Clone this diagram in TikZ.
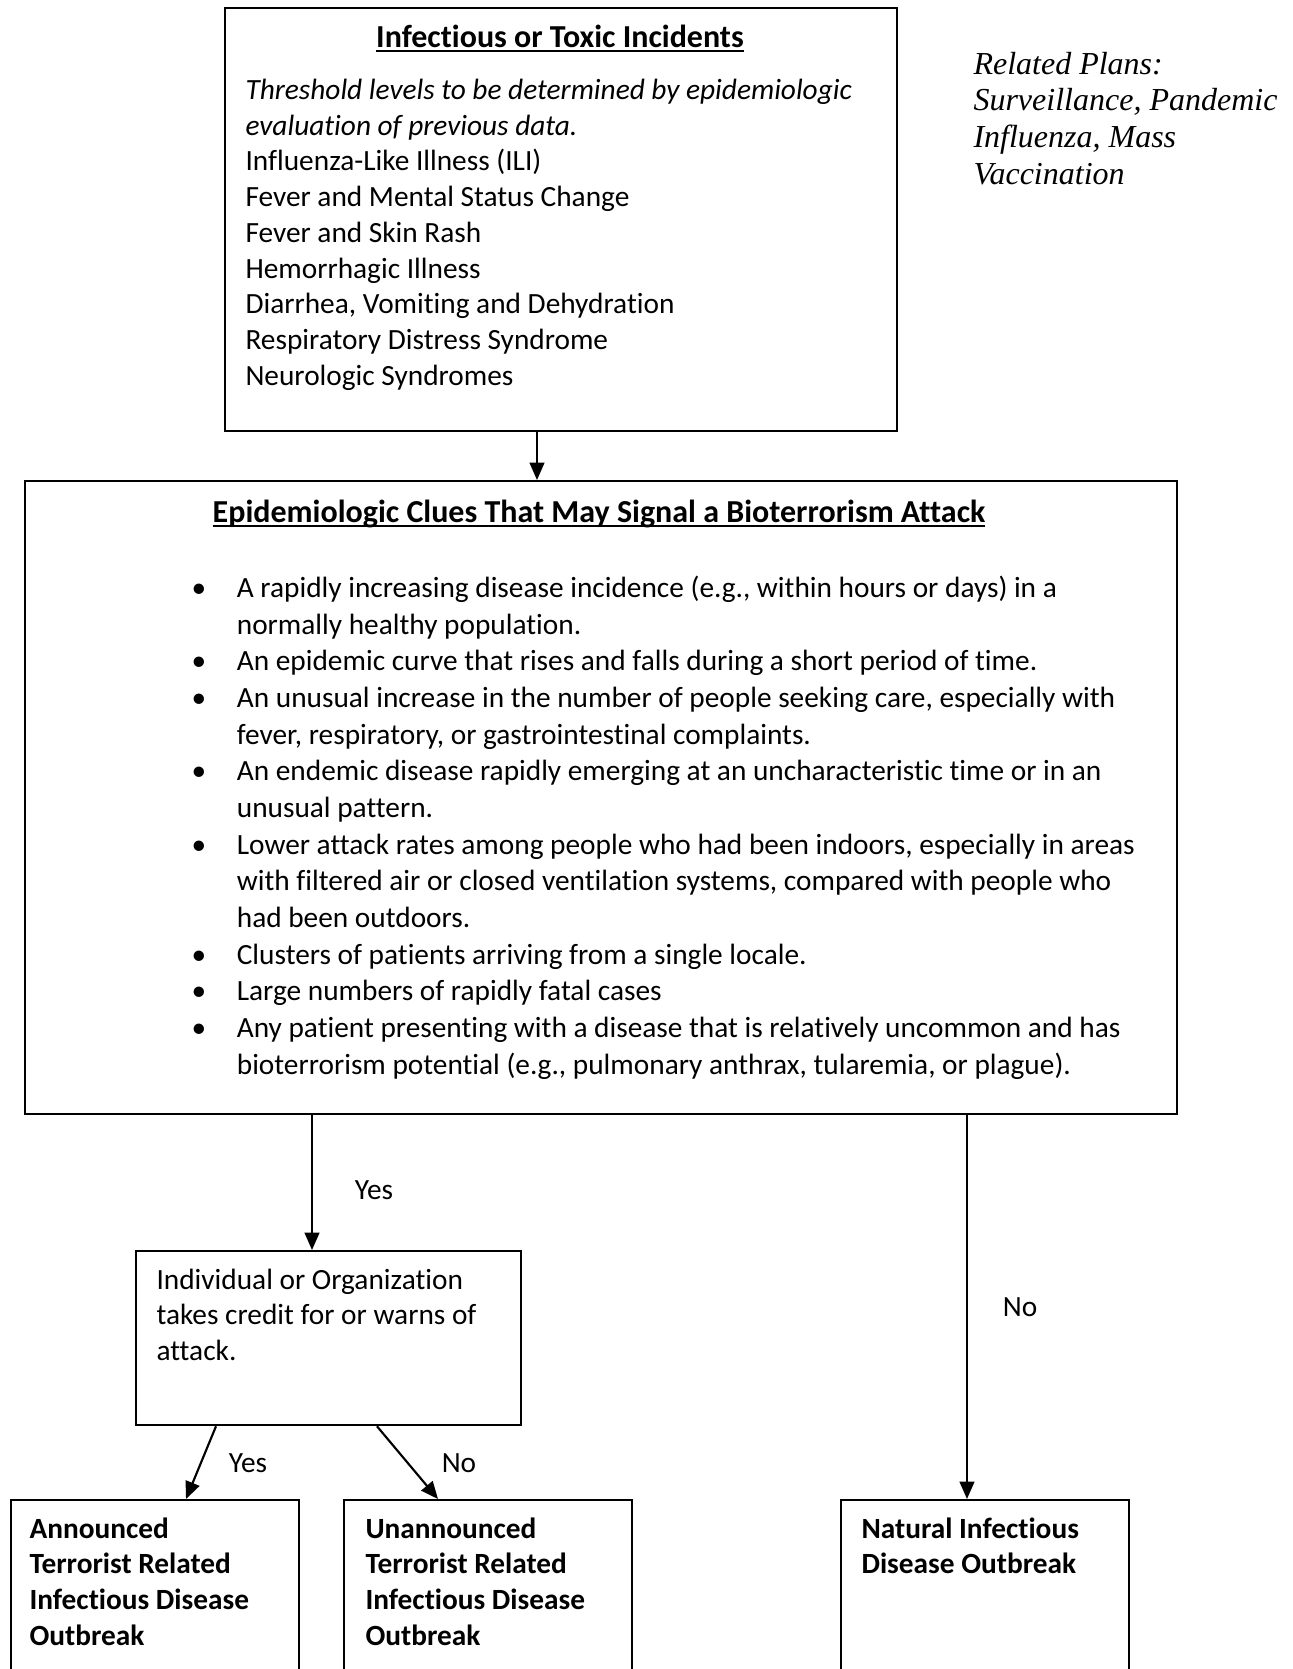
\documentclass[tikz,border=0pt]{standalone}
\usepackage{fontspec}
\setmainfont{Carlito}[RawFeature={-liga;-clig;-dlig;-rlig}]
\newfontfamily\planfont{Liberation Serif}
\usetikzlibrary{arrows.meta}
\newcommand{\boxlines}[1]{\begin{tabular}[t]{@{}l@{}}#1\end{tabular}}
\newcommand{\cluelines}[1]{\begin{tabular}[t]{@{}p{17pt}@{}l@{}}#1\end{tabular}}
\newcommand{\thickul}[1]{\setbox0=\hbox{#1}\leavevmode\rlap{\rule[-1.8pt]{\wd0}{0.75pt}}\box0}
\begin{document}
\begin{tikzpicture}[x=0.375pt,y=-0.375pt]
        \tikzset{
            box/.style={draw=black,line width=0.8pt,inner sep=0pt,anchor=north west},
            txt/.style={inner sep=0pt,anchor=base west,font=\fontsize{11}{13.4}\selectfont},
            heading/.style={inner sep=0pt,anchor=base,font=\fontsize{12}{14}\selectfont\bfseries},
            arr/.style={-{Triangle[width=5.5pt,length=6.5pt]},line width=0.8pt}
        }
        \clip (0,0) rectangle (1293,1669);

        \node[box,minimum width=252.2pt,minimum height=158.9pt] (inc) at (223.5,6.5) {};
        \node[box,minimum width=432.2pt,minimum height=237.4pt] (clues) at (23.5,480) {};
        \node[box,minimum width=144.4pt,minimum height=65.3pt] (credit) at (135,1250) {};
        \node[box,minimum width=108pt,minimum height=80pt] (ann) at (9.5,1499) {};
        \node[box,minimum width=108pt,minimum height=80pt] (unann) at (343,1499) {};
        \node[box,minimum width=108pt,minimum height=80pt] (nat) at (840,1499) {};

        \node[heading] (inctitle) at (560,47) {\thickul{Infectious or Toxic Incidents}};
        \node[txt] (inclist) at (245,99.5) {\boxlines{
                \textit{Threshold levels to be determined by epidemiologic}\\
                \textit{evaluation of previous data.}\\
                Influenza-Like Illness (ILI)\\
                Fever and Mental Status Change\\
                Fever and Skin Rash\\
                Hemorrhagic Illness\\
                Diarrhea, Vomiting and Dehydration\\
                Respiratory Distress Syndrome\\
                Neurologic Syndromes}};

        \node[txt,anchor=base west,font=\planfont\itshape\fontsize{12}{13.8}\selectfont] (plans) at (973,74) {\boxlines{
                Related Plans:\\
                Surveillance, Pandemic\\
                Influenza, Mass\\
                Vaccination}};

        \node[heading] (cluetitle) at (599,522) {\thickul{Epidemiologic Clues That May Signal a Bioterrorism Attack}};
        \node[txt,font=\fontsize{11}{13.75}\selectfont] (cluelist) at (191,597.5) {\cluelines{
                \textbullet & A rapidly increasing disease incidence (e.g., within hours or days) in a\\
                & normally healthy population.\\
                \textbullet & An epidemic curve that rises and falls during a short period of time.\\
                \textbullet & An unusual increase in the number of people seeking care, especially with\\
                & fever, respiratory, or gastrointestinal complaints.\\
                \textbullet & An endemic disease rapidly emerging at an uncharacteristic time or in an\\
                & unusual pattern.\\
                \textbullet & Lower attack rates among people who had been indoors, especially in areas\\
                & with filtered air or closed ventilation systems, compared with people who\\
                & had been outdoors.\\
                \textbullet & Clusters of patients arriving from a single locale.\\
                \textbullet & Large numbers of rapidly fatal cases\\
                \textbullet & Any patient presenting with a disease that is relatively uncommon and has\\
                & bioterrorism potential (e.g., pulmonary anthrax, tularemia, or plague).}};

        \node[txt] (credittxt) at (156,1289) {\boxlines{
                Individual or Organization\\
                takes credit for or warns of\\
                attack.}};

        \node[txt] (anntxt) at (29,1538) {\boxlines{\bfseries
                Announced\\ \bfseries Terrorist Related\\ \bfseries Infectious Disease\\ \bfseries Outbreak}};
        \node[txt] (unanntxt) at (365,1538) {\boxlines{\bfseries
                Unannounced\\ \bfseries Terrorist Related\\ \bfseries Infectious Disease\\ \bfseries Outbreak}};
        \node[txt] (nattxt) at (861,1538) {\boxlines{\bfseries
                Natural Infectious\\ \bfseries Disease Outbreak}};

        \coordinate (x1) at (537,0);
        \coordinate (x2) at (312,0);
        \coordinate (x3) at (967,0);
        \coordinate (x4) at (216,0);
        \coordinate (x5) at (186,0);
        \coordinate (x6) at (377,0);
        \coordinate (x7) at (438,0);

        \draw[arr] (inc.south -| x1) -- (clues.north -| x1);
        \draw[arr] (clues.south -| x2) -- (credit.north -| x2);
        \draw[arr] (clues.south -| x3) -- (nat.north -| x3);
        \draw[arr] (credit.south -| x4) -- (ann.north -| x5);
        \draw[arr] (credit.south -| x6) -- (unann.north -| x7);

        \node[txt,anchor=center] (yes1) at (374,1190) {Yes};
        \node[txt,anchor=center] (no1) at (1020,1307) {No};
        \node[txt,anchor=center] (yes2) at (248,1463) {Yes};
        \node[txt,anchor=center] (no2) at (459,1463) {No};

    \end{tikzpicture}
\end{document}
